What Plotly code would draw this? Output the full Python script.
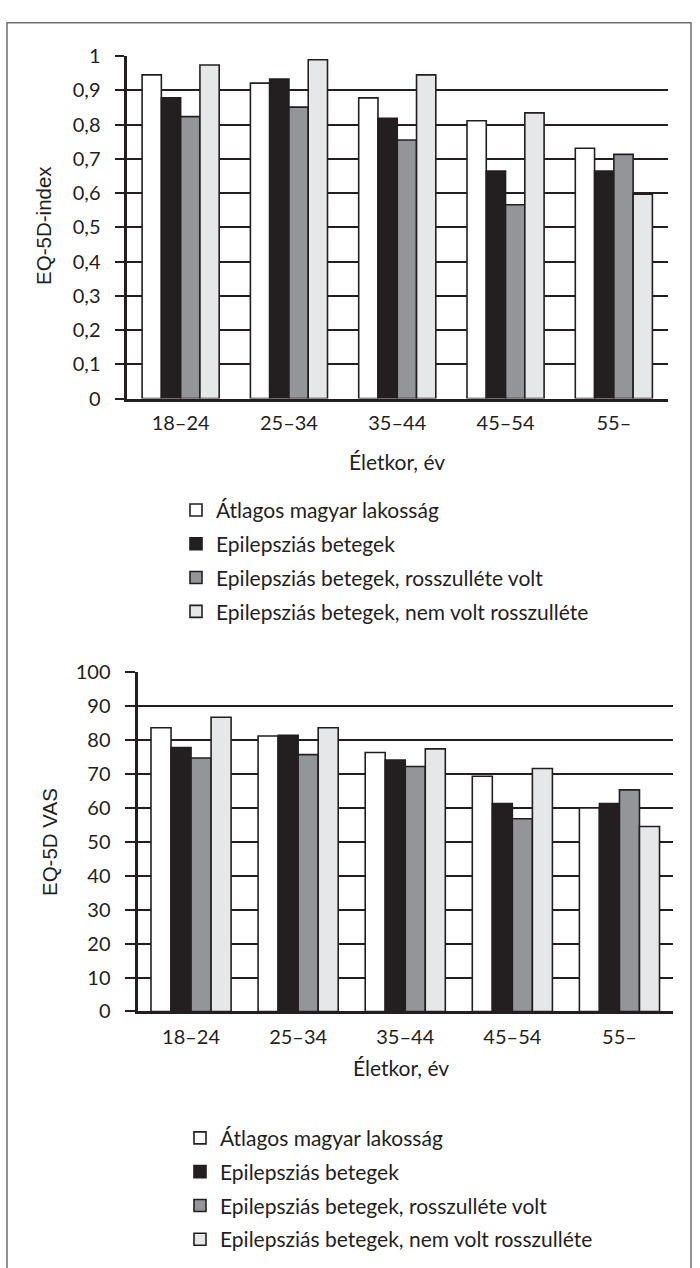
import plotly.graph_objects as go

categories = ["18–24", "25–34", "35–44", "45–54", "55–"]
series_names = [
    "Átlagos magyar lakosság",
    "Epilepsziás betegek",
    "Epilepsziás betegek, rosszulléte volt",
    "Epilepsziás betegek, nem volt rosszulléte",
]
index_values = [
    [0.945, 0.921, 0.878, 0.811, 0.731],
    [0.878, 0.933, 0.818, 0.664, 0.664],
    [0.823, 0.851, 0.755, 0.566, 0.713],
    [0.974, 0.989, 0.945, 0.834, 0.597],
]
vas_values = [
    [83.6, 81.2, 76.3, 69.3, 60.0],
    [77.8, 81.4, 74.1, 61.3, 61.3],
    [74.7, 75.7, 72.2, 56.8, 65.3],
    [86.7, 83.6, 77.4, 71.6, 54.5],
]
index_ticks = [0, 0.1, 0.2, 0.3, 0.4, 0.5, 0.6, 0.7, 0.8, 0.9, 1]
vas_ticks = [0, 10, 20, 30, 40, 50, 60, 70, 80, 90, 100]

colors = ["#ffffff", "#231f20", "#939598", "#e6e7e8"]
DARK = "#231f20"
W, H = 700, 1268
FONT = "Lato"

fig = go.Figure()

top_w = 0.178
bot_w = 0.187
for i, name in enumerate(series_names):
    fig.add_trace(go.Bar(
        x=categories, y=index_values[i], name=name,
        marker=dict(color=colors[i], line=dict(color=DARK, width=1.6)),
        width=top_w, offset=-2 * top_w + i * top_w,
        xaxis="x", yaxis="y", legend="legend", legendgroup="a%d" % i,
        hoverinfo="x+y+name",
    ))
for i, name in enumerate(series_names):
    fig.add_trace(go.Bar(
        x=categories, y=vas_values[i], name=name,
        marker=dict(color=colors[i], line=dict(color=DARK, width=1.6)),
        width=bot_w, offset=-2 * bot_w + i * bot_w,
        xaxis="x2", yaxis="y2", legend="legend2", legendgroup="b%d" % i,
        hoverinfo="x+y+name",
    ))

def px_x(v):
    return v / W

def px_y(v):
    return 1 - v / H

axis_common = dict(
    showline=True, linecolor=DARK, linewidth=3,
    tickfont=dict(family=FONT, size=20, color=DARK),
)

legend_common = dict(
    xanchor="left", yanchor="top",
    font=dict(family=FONT, size=21, color=DARK),
    tracegroupgap=3.5, bgcolor="rgba(0,0,0,0)", borderwidth=0,
    traceorder="grouped",
)

fig.update_layout(
    width=W, height=H,
    margin=dict(l=0, r=0, t=0, b=0),
    paper_bgcolor="white", plot_bgcolor="white",
    barmode="overlay",
    separators=", ",
    showlegend=True,
    xaxis=dict(
        domain=[px_x(126.5), px_x(668)], anchor="y",
        type="category", ticks="", ticklabelstandoff=4,
        **axis_common,
    ),
    yaxis=dict(
        domain=[px_y(393), px_y(43.7)], anchor="x",
        range=[0, 1.0005], tickvals=index_ticks,
        showgrid=True, gridcolor=DARK, gridwidth=2,
        ticks="outside", ticklen=9, tickwidth=2, tickcolor=DARK,
        ticklabelstandoff=10, zeroline=False,
        **axis_common,
    ),
    xaxis2=dict(
        domain=[px_x(137.5), px_x(673)], anchor="y2",
        type="category", ticks="", ticklabelstandoff=6,
        **axis_common,
    ),
    yaxis2=dict(
        domain=[px_y(1017.7), px_y(671.7)], anchor="x2",
        range=[0, 100.05], tickvals=vas_ticks,
        showgrid=True, gridcolor=DARK, gridwidth=2,
        ticks="outside", ticklen=10, tickwidth=2, tickcolor=DARK,
        ticklabelstandoff=10, zeroline=False,
        **axis_common,
    ),
    legend=dict(x=px_x(176), y=px_y(486), **legend_common),
    legend2=dict(x=px_x(180), y=px_y(1126), **legend_common),
    annotations=[
        dict(text="EQ-5D-index", xref="paper", yref="paper",
             x=px_x(44), y=px_y(217), textangle=-90, showarrow=False,
             font=dict(family="Liberation Sans", size=20.5, color=DARK),
             xanchor="center", yanchor="middle"),
        dict(text="Életkor, év", xref="paper", yref="paper",
             x=px_x(397), y=px_y(457), showarrow=False,
             font=dict(family=FONT, size=21, color=DARK),
             xanchor="center", yanchor="middle"),
        dict(text="EQ-5D VAS", xref="paper", yref="paper",
             x=px_x(49), y=px_y(845), textangle=-90, showarrow=False,
             font=dict(family="Liberation Sans", size=20.5, color=DARK),
             xanchor="center", yanchor="middle"),
        dict(text="Életkor, év", xref="paper", yref="paper",
             x=px_x(401), y=px_y(1075), showarrow=False,
             font=dict(family=FONT, size=21, color=DARK),
             xanchor="center", yanchor="middle"),
    ],
    shapes=[
        dict(type="rect", xref="paper", yref="paper",
             x0=px_x(7), x1=px_x(691), y0=-0.05, y1=px_y(10),
             line=dict(color="#6d6e71", width=1.5), fillcolor="rgba(0,0,0,0)",
             layer="below"),
    ],
)

fig.write_html(
    "out.html",
    config={"displayModeBar": False},
    post_script="document.body.style.margin='0';document.body.style.overflow='hidden';",
)
